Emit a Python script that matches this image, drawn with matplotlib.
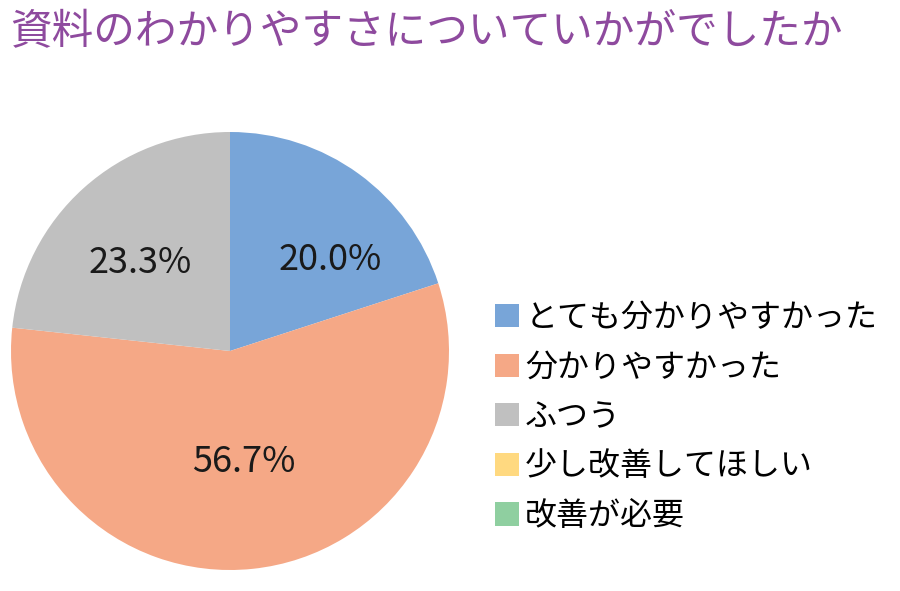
import matplotlib
matplotlib.use("Agg")
import matplotlib.pyplot as plt
from matplotlib.patches import Patch

plt.rcParams['font.family'] = ['Noto Sans CJK JP', 'DejaVu Sans']

title = "資料のわかりやすさについていかがでしたか"
labels = ["とても分かりやすかった", "分かりやすかった", "ふつう", "少し改善してほしい", "改善が必要"]
values = [20.0, 56.7, 23.3, 0.0, 0.0]
colors = ["#78A5D8", "#F5A886", "#C0C0C0", "#FFD980", "#8FCFA0"]

fig = plt.figure(figsize=(9, 5.91), dpi=100)
fig.patch.set_facecolor("white")

# pie area: centre ~ (230, 351) px, radius ~219 px
ax = fig.add_axes([11 / 900, (591 - 570) / 591, 438 / 900, 438 / 591])
shown = [(v, c) for v, c in zip(values, colors) if v > 0]
wedges, texts, autotexts = ax.pie(
    [v for v, _ in shown],
    colors=[c for _, c in shown],
    startangle=90,
    counterclock=False,
    autopct="%.1f%%",
    pctdistance=0.6,
    wedgeprops=dict(linewidth=0),
    textprops=dict(fontsize=26, color="#1a1a1a"),
)
# excel-ish label placement nudges
nudges = [(0.105, -0.07), (0.0, 0.09), (-0.01, -0.045)]
for t, (dx, dy) in zip(autotexts, nudges):
    x, y = t.get_position()
    t.set_position((x + dx, y + dy))

ax.set_xlim(-1, 1)
ax.set_ylim(-1, 1)
ax.set_aspect("equal")

fig.text(10 / 900, 1 - 33 / 591, title, fontsize=30, color="#8E4A9E",
         ha="left", va="center")

handles = [Patch(facecolor=c, edgecolor="none") for c in colors]
fig.legend(handles, labels, loc="upper left",
           bbox_to_anchor=(482 / 900, 1 - 289 / 591),
           frameon=False, fontsize=23, handlelength=0.75, handleheight=0.75,
           handletextpad=0.2, labelspacing=0.55, borderaxespad=0)

fig.savefig("out.png", dpi=100, facecolor="white")
